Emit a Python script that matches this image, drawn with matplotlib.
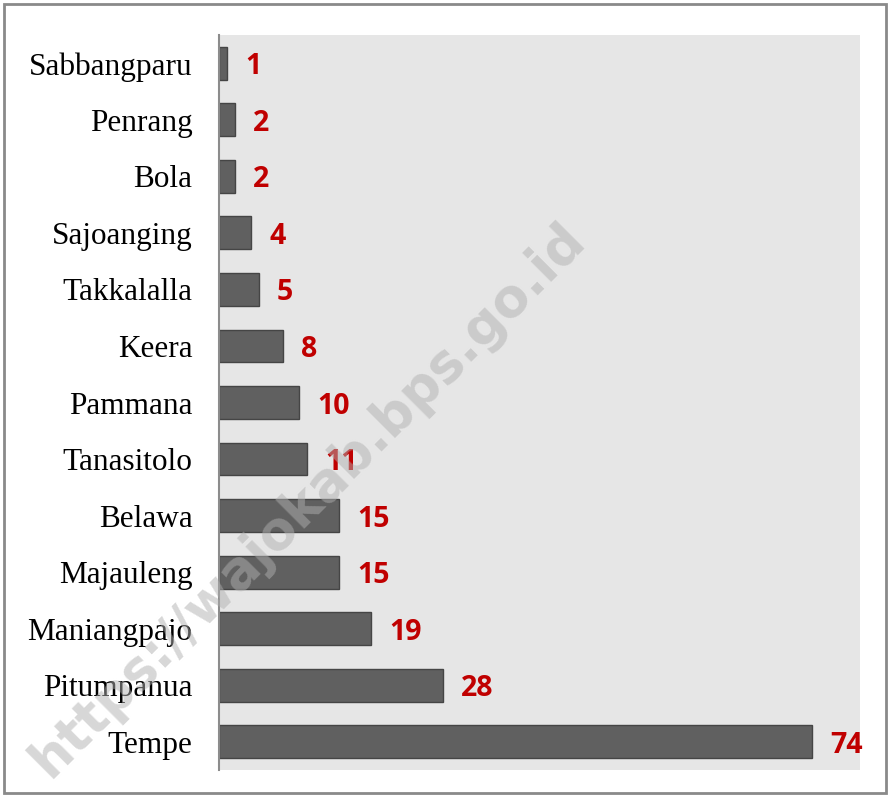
import matplotlib
matplotlib.use('Agg')
import matplotlib.pyplot as plt
from matplotlib.patches import Rectangle

# data, top to bottom as shown
districts = ['Sabbangparu', 'Penrang', 'Bola', 'Sajoanging', 'Takkalalla', 'Keera',
             'Pammana', 'Tanasitolo', 'Belawa', 'Majauleng', 'Maniangpajo',
             'Pitumpanua', 'Tempe']
counts = [1, 2, 2, 4, 5, 8, 10, 11, 15, 15, 19, 28, 74]
watermark = 'https://wajokab.bps.go.id'

fig = plt.figure(figsize=(8.9, 7.97), dpi=100)
ax = fig.add_axes([219 / 890, 1 - 770 / 797, 641 / 890, 735 / 797])
ax.set_facecolor('#e6e6e6')

ypos = list(range(len(districts)))[::-1]
ax.barh(ypos, counts, height=0.58, color='#606060', edgecolor='#454545', linewidth=1)

for y, v in zip(ypos, counts):
    ax.annotate(str(v), (v, y), xytext=(13, 0), textcoords='offset points',
                va='center_baseline', ha='left', color='#c00000', fontsize=20.5,
                fontweight='bold', family='Open Sans')

ax.set_xlim(0, 80)
ax.set_ylim(-0.5, len(districts) - 0.5)
ax.set_yticks(ypos)
ax.set_yticklabels(districts, family='Liberation Serif', fontsize=22.5)
ax.tick_params(axis='y', length=0, pad=19)
ax.set_xticks([])
for s in ['top', 'right', 'bottom']:
    ax.spines[s].set_visible(False)
ax.spines['left'].set_color('#8c8c8c')
ax.spines['left'].set_linewidth(1.5)

# outer border
fig.patches.append(Rectangle((4 / 890, 1 - 793 / 797), 882 / 890, 789 / 797,
                             transform=fig.transFigure, fill=False,
                             edgecolor='#8a8a8a', linewidth=2))

fig.text(308 / 890, 1 - 500 / 797, watermark, rotation=45, ha='center', va='center',
         fontsize=38, fontweight='bold', color='#b0b0b0', alpha=0.5,
         family='DejaVu Sans', zorder=10)

fig.savefig('out.png', dpi=100)
